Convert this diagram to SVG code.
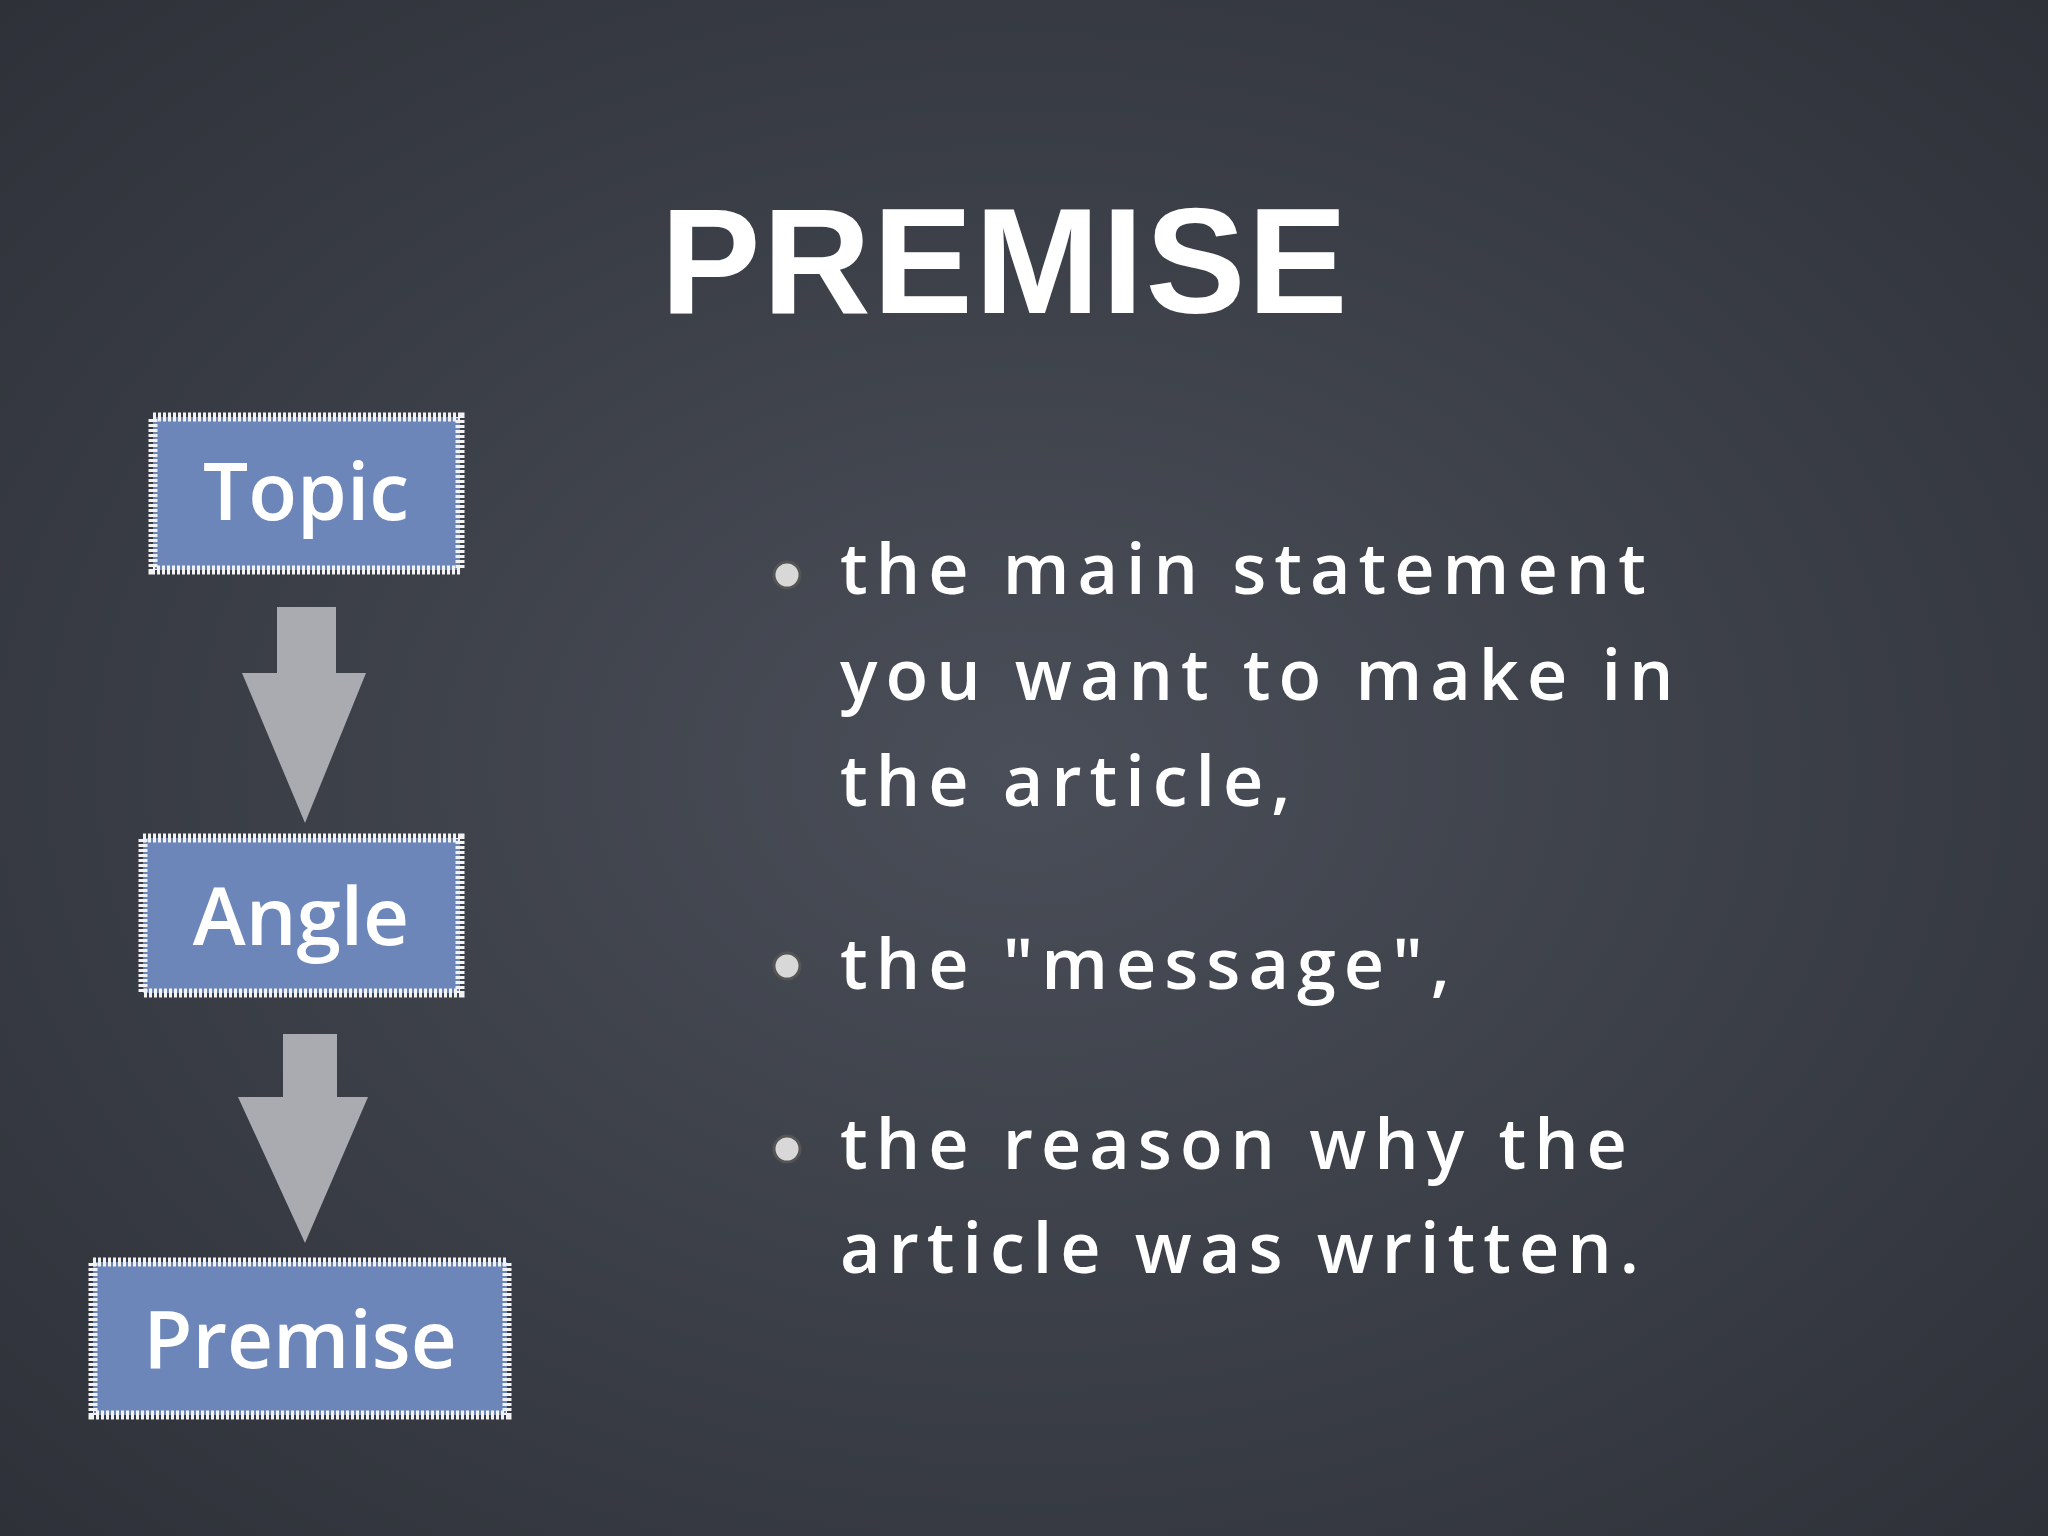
<svg xmlns="http://www.w3.org/2000/svg" width="2048" height="1536" viewBox="0 0 2048 1536">
<defs>
<radialGradient id="bg" cx="50%" cy="50%" r="75%">
<stop offset="0" stop-color="#4a4e58"/><stop offset="1" stop-color="#2c2f36"/>
</radialGradient>
</defs>
<style>
.box{fill:#6d86ba;stroke:#f2f2f2;stroke-width:9;stroke-dasharray:3 2}
.lbl{font-family:"Open Sans",sans-serif;fill:#fff;font-size:80px;font-weight:600}
.txt{font-family:"Open Sans",sans-serif;fill:#fff;font-size:70px;font-weight:600;letter-spacing:8px}
.arr{fill:#a9abb0}
.bul{fill:#d8d8d8;stroke:#555;stroke-width:3}
</style>
<rect width="2048" height="1536" fill="url(#bg)"/>
<text x="1005" y="313" text-anchor="middle" font-family="Liberation Sans,sans-serif" font-size="150" font-weight="bold" fill="#fff" letter-spacing="2">PREMISE</text>
<g id="topic"><rect class="box" x="153" y="417" width="307" height="153"/><text class="lbl" x="306" y="520" text-anchor="middle">Topic</text></g>
<g id="angle"><rect class="box" x="143" y="838" width="317" height="155"/><text class="lbl" x="301" y="945" text-anchor="middle">Angle</text></g>
<g id="premise"><rect class="box" x="93" y="1262" width="414" height="153"/><text class="lbl" x="300" y="1368" text-anchor="middle">Premise</text></g>
<g id="connectors">
<polygon class="arr" points="277,607 336,607 336,673 366,673 305,823 242,673 277,673"/>
<polygon class="arr" points="283,1034 337,1034 337,1097 368,1097 305,1243 238,1097 283,1097"/>
</g>
<g id="bullets">
<circle class="bul" cx="787" cy="575" r="13"/><circle class="bul" cx="787" cy="966" r="13"/><circle class="bul" cx="787" cy="1149" r="13"/>
<text class="txt" x="840" y="594">the main statement</text>
<text class="txt" x="840" y="700">you want to make in</text>
<text class="txt" x="840" y="806">the article,</text>
<text class="txt" x="840" y="989">the "message",</text>
<text class="txt" x="840" y="1169">the reason why the</text>
<text class="txt" x="840" y="1273">article was written.</text>
</g>
</svg>
